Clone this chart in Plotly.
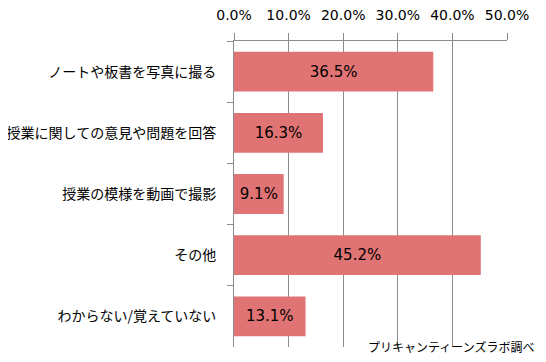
import plotly.graph_objects as go

categories = ["ノートや板書を写真に撮る", "授業に関しての意見や問題を回答", "授業の模様を動画で撮影", "その他", "わからない/覚えていない"]
values = [36.5, 16.3, 9.1, 45.2, 13.1]
tick_vals = [0, 10, 20, 30, 40, 50]
tick_text = ["0.0%", "10.0%", "20.0%", "30.0%", "40.0%", "50.0%"]
source_note = "プリキャンティーンズラボ調べ"

cjk_font = "Noto Sans CJK JP, sans-serif"
num_font = "DejaVu Sans, sans-serif"

# page body has an 8px margin; figure is sized to fit the 546x362 window
W, H = 530, 346

fig = go.Figure(go.Bar(
    x=values,
    y=categories,
    orientation="h",
    marker=dict(color="#E07373", line=dict(width=0)),
    width=0.65,
    text=[f"{v:.1f}%" for v in values],
    textposition="inside",
    insidetextanchor="middle",
    textfont=dict(color="#000000", size=15, family=num_font),
    constraintext="none",
))

fig.update_layout(
    width=W, height=H,
    margin=dict(l=226, r=31, t=33, b=7, autoexpand=False),
    paper_bgcolor="white", plot_bgcolor="white",
    showlegend=False,
    font=dict(family=cjk_font, color="#000000"),
    xaxis=dict(
        side="top", range=[0, 50], tickvals=tick_vals, ticktext=tick_text,
        showgrid=True, gridcolor="#8c8c8c", gridwidth=1,
        showline=True, linecolor="#8c8c8c", linewidth=1,
        ticks="outside", ticklen=7, tickcolor="#8c8c8c",
        tickfont=dict(size=14, family=num_font), zeroline=False,
        automargin=False, ticklabelstandoff=7,
    ),
    yaxis=dict(
        autorange="reversed", showline=True, linecolor="#8c8c8c", linewidth=1,
        ticks="outside", ticklen=6, tickcolor="#8c8c8c", tickson="boundaries",
        tickfont=dict(size=14, family=cjk_font), showgrid=False,
        automargin=False, ticklabelstandoff=14,
    ),
    annotations=[dict(
        text=source_note, xref="paper", yref="paper",
        x=(528 - 226) / 273, y=(339 - 338) / 306, xanchor="right", yanchor="middle",
        showarrow=False, font=dict(size=12, color="#000000", family=cjk_font),
    )],
)

fig.write_html("out.html")
